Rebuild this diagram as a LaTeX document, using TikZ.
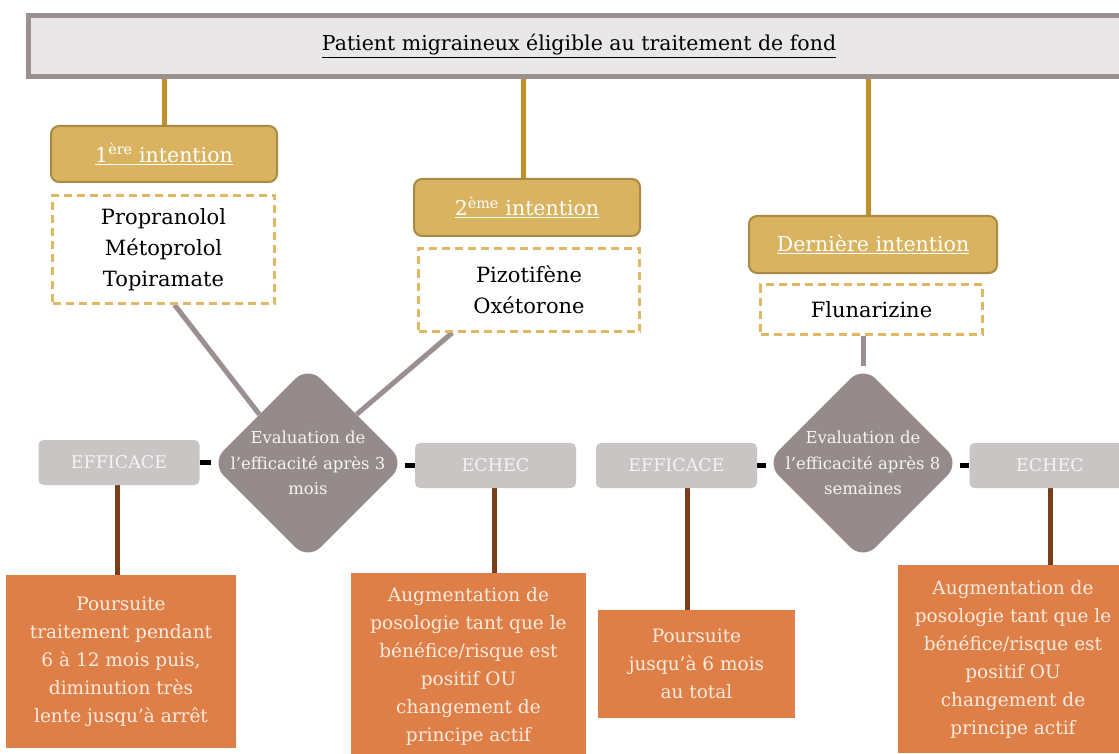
\documentclass[tikz,border=0pt]{standalone}
\usepackage{fontspec}
\setmainfont{DejaVu Serif}
\usetikzlibrary{shapes.geometric,calc,backgrounds}
\definecolor{titlefill}{HTML}{E9E7E8}
\definecolor{titleborder}{HTML}{9B9090}
\definecolor{goldfill}{HTML}{D9B35F}
\definecolor{goldborder}{HTML}{A98A42}
\definecolor{goldline}{HTML}{BF912D}
\definecolor{dashgold}{HTML}{E0B764}
\definecolor{grayline}{HTML}{9B9090}
\definecolor{diamondfill}{HTML}{968B8B}
\definecolor{grayboxfill}{HTML}{C9C5C5}
\definecolor{brownline}{HTML}{7A3E1A}
\definecolor{orangefill}{HTML}{DD7F47}
\definecolor{orangetext}{HTML}{FDEBE0}
\definecolor{lighttext}{HTML}{F5F3F3}
\tikzset{
  titlebox/.style={draw=titleborder, fill=titlefill, line width=5pt, inner sep=0pt,
    font=\fontsize{20.5}{24}\selectfont},
  headbox/.style={draw=goldborder, fill=goldfill, line width=2pt, rounded corners=8pt,
    inner sep=0pt, text=white, font=\fontsize{20.5}{24}\selectfont},
  drugbox/.style={draw=dashgold, fill=white, line width=2.5pt, dash pattern=on 8pt off 5pt,
    inner sep=0pt, align=center, font=\fontsize{21}{31}\selectfont},
  evalbox/.style={diamond, aspect=1, fill=diamondfill, rounded corners=18pt,
    minimum width=194pt, minimum height=194pt, inner sep=0pt},
  evaltext/.style={align=center, text=lighttext, font=\fontsize{16.5}{25.5}\selectfont},
  resultbox/.style={fill=grayboxfill, rounded corners=5pt, inner sep=0pt,
    minimum width=161pt, minimum height=45pt, text=lighttext, font=\fontsize{17.5}{20}\selectfont},
  actionbox/.style={fill=orangefill, inner sep=0pt, align=center, text=orangetext,
    font=\fontsize{18.5}{28}\selectfont},
  goldconn/.style={draw=goldline, line width=5pt},
  grayconn/.style={draw=grayline, line width=5pt},
  blackconn/.style={draw=black, line width=5pt},
  brownconn/.style={draw=brownline, line width=5pt},
}
\begin{document}
\begin{tikzpicture}[x=1pt,y=-1pt]
\useasboundingbox (0,0) rectangle (1119,754);
\clip (0,0) rectangle (1119,754);

% title
\node[titlebox, minimum width=1102pt, minimum height=61pt] (title) at (579,46)
  {\underline{Patient migraineux éligible au traitement de fond}};

% headers
\node[headbox, minimum width=226pt, minimum height=56pt] (h1) at (164,154)
  {\underline{1\textsuperscript{ère} intention}};
\node[headbox, minimum width=226pt, minimum height=57pt] (h2) at (527,207.5)
  {\underline{2\textsuperscript{ème} intention}};
\node[headbox, minimum width=248pt, minimum height=57pt] (h3) at (873,244.5)
  {\underline{Dernière intention}};

% drug boxes
\node[drugbox, minimum width=222pt, minimum height=108pt] (m1) at (163.5,249.5)
  {Propranolol\\Métoprolol\\Topiramate};
\node[drugbox, minimum width=221pt, minimum height=83pt] (m2) at (529,290)
  {Pizotifène\\Oxétorone};
\node[drugbox, minimum width=222pt, minimum height=50pt] (m3) at (871.5,309.5)
  {Flunarizine};

% diamonds
\node[evalbox] (d1) at (308,463) {};
\node[evaltext] (d1t) at (d1.center) {Evaluation de\\l’efficacité après 3\\mois};
\node[evalbox] (d2) at (863,463) {};
\node[evaltext] (d2t) at (d2.center) {Evaluation de\\l’efficacité après 8\\semaines};

% result boxes
\node[resultbox] (e1) at (119,462.5) {EFFICACE};
\node[resultbox] (f1) at (495.5,465.5) {ECHEC};
\node[resultbox] (e2) at (676.5,465.5) {EFFICACE};
\node[resultbox] (f2) at (1050,465.5) {ECHEC};

% action boxes
\node[actionbox, minimum width=230pt, minimum height=173pt] (o1) at (121,661.5)
  {Poursuite\\traitement pendant\\6 à 12 mois puis,\\diminution très\\lente jusqu’à arrêt};
\node[actionbox, minimum width=235pt, minimum height=186pt] (o2) at (468.5,666)
  {Augmentation de\\posologie tant que le\\bénéfice/risque est\\positif OU\\changement de\\principe actif};
\node[actionbox, minimum width=197pt, minimum height=108pt] (o3) at (696.5,664)
  {Poursuite\\jusqu’à 6 mois\\au total};
\node[actionbox, minimum width=230pt, minimum height=188pt] (o4) at (1013,659)
  {Augmentation de\\posologie tant que le\\bénéfice/risque est\\positif OU\\changement de\\principe actif};

\begin{pgfonlayer}{background}
  \draw[goldconn] (h1.north) -- (h1.north |- title.south);
  \draw[goldconn] ($(h2.north)+(-4,0)$) -- ($(h2.north |- title.south)+(-4,0)$);
  \draw[goldconn] ($(h3.north)+(-5,0)$) -- ($(h3.north |- title.south)+(-5,0)$);
  \draw[grayconn] ($(m1.south)+(11,0)$) -- (d1.north west);
  \draw[grayconn] ($(m2.south west)+(35,0)$) -- (d1.north east);
  \draw[grayconn] (d2.north |- m3.south) -- (d2.north);
  \draw[blackconn] (e1.east) -- (e1.east -| d1.west);
  \draw[blackconn] (f1.west) -- (f1.west -| d1.east);
  \draw[blackconn] (e2.east) -- (e2.east -| d2.west);
  \draw[blackconn] (f2.west) -- (f2.west -| d2.east);
  \draw[brownconn] ($(e1.south)+(-2,0)$) -- ($(e1.south |- o1.north)+(-2,0)$);
  \draw[brownconn] ($(f1.south)+(-1.5,0)$) -- ($(f1.south |- o2.north)+(-1.5,0)$);
  \draw[brownconn] ($(e2.south)+(11,0)$) -- ($(e2.south |- o3.north)+(11,0)$);
  \draw[brownconn] (f2.south) -- (f2.south |- o4.north);
\end{pgfonlayer}
\end{tikzpicture}
\end{document}
